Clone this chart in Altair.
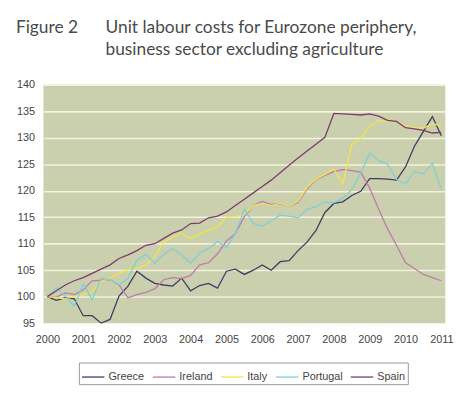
import altair as alt
import pandas as pd

start_year = 2000
quarters_per_year = 4

greece = [100.0, 99.3, 99.8, 99.6,
          96.4, 96.4, 95.0, 95.7,
          100.1, 102.0, 104.8, 103.5,
          102.5, 102.2, 102.0, 103.5,
          101.1, 102.1, 102.5, 101.6,
          104.8, 105.2, 104.2, 105.0,
          106.0, 105.0, 106.6, 106.8,
          108.7, 110.3, 112.5, 115.9,
          117.6, 117.9, 119.1, 119.9,
          122.3, 122.3, 122.2, 122.0,
          124.5, 128.4, 131.2, 134.0,
          130.4]
ireland = [100.0, 99.9, 100.7, 100.4,
           101.3, 103.0, 103.1, 103.2,
           102.2, 99.8, 100.4, 100.8,
           101.5, 103.2, 103.6, 103.4,
           104.0, 106.0, 106.4, 108.1,
           110.5, 111.9, 115.1, 117.2,
           118.0, 117.4, 117.5, 117.1,
           117.8, 120.3, 122.1, 122.9,
           123.6, 124.0, 123.8, 123.5,
           120.5, 116.5, 112.8, 109.7,
           106.4, 105.3, 104.2, 103.6,
           103.0]
italy = [100.0, 99.8, 99.6, 100.0,
         100.4, 101.0, 102.9, 103.5,
         104.4, 105.1, 105.3, 106.0,
         107.5, 110.4, 111.2, 112.0,
         111.0, 111.8, 112.6, 113.2,
         115.0, 115.1, 115.5, 117.2,
         117.6, 117.2, 117.6, 117.1,
         118.0, 120.6, 122.2, 123.1,
         124.1, 121.3, 128.7, 129.8,
         132.1, 133.3, 133.1, 133.1,
         132.2, 131.9, 131.8, 132.7,
         132.2]
portugal = [100.0, 101.7, 100.1, 98.2,
            102.5, 99.4, 103.5, 103.2,
            102.2, 103.5, 106.9, 108.0,
            106.3, 108.0, 109.1, 107.9,
            106.3, 108.2, 109.1, 110.4,
            109.3, 111.9, 116.5, 113.8,
            113.3, 114.3, 115.4, 115.2,
            114.9, 116.5, 117.0, 117.9,
            117.7, 118.6, 120.2, 123.3,
            127.1, 125.7, 125.0, 122.1,
            121.3, 123.6, 123.2, 125.2,
            120.3]
spain = [100.0, 101.1, 102.2, 103.0,
         103.6, 104.4, 105.2, 106.0,
         107.2, 107.9, 108.7, 109.7,
         110.0, 111.0, 112.0, 112.6,
         113.8, 113.9, 114.9, 115.2,
         116.0, 117.2, 118.4, 119.6,
         120.8, 122.0, 123.4, 124.8,
         126.2, 127.5, 128.8, 130.1,
         134.6, 134.5, 134.4, 134.3,
         134.5, 134.1, 133.3, 133.1,
         131.9, 131.7, 131.4, 130.9,
         131.0]

series_names = ["Greece", "Ireland", "Italy", "Portugal", "Spain"]
series_values = [greece, ireland, italy, portugal, spain]
series_colors = ["#3d3d63", "#c07aae", "#f2e64a", "#7fcfd3", "#7b3d6d"]

x_ticks = list(range(2000, 2012))
y_ticks = [95, 100, 105, 110, 115, 120, 125, 130, 135, 140]

fig_label = ["Figure 2"]
title_lines = ["Unit labour costs for Eurozone periphery,",
               "business sector excluding agriculture"]

rows = []
for name, vals in zip(series_names, series_values):
    for i, v in enumerate(vals):
        rows.append({"country": name, "year": start_year + i / quarters_per_year, "value": v})
df = pd.DataFrame(rows)

label_font = "Liberation Sans"
title_font = "Lato"

lines = alt.Chart(df).mark_line(strokeWidth=1.3).encode(
    x=alt.X("year:Q",
            scale=alt.Scale(domain=[1999.89, 2011.11], nice=False, zero=False),
            axis=alt.Axis(values=x_ticks, format="d", title=None, grid=False,
                          ticks=False, tickSize=0, domain=False, labelPadding=11,
                          labelFontSize=11, labelColor="#444444", labelFont=label_font)),
    y=alt.Y("value:Q",
            scale=alt.Scale(domain=[95, 140], nice=False, zero=False),
            axis=alt.Axis(values=y_ticks, title=None, grid=True,
                          gridColor=alt.condition("datum.value === 95", alt.value("transparent"), alt.value("#f3f2df")),
                          gridWidth=1.6, ticks=False, tickSize=0, domain=False,
                          labelPadding=9, labelFontSize=11, labelColor="#444444",
                          labelFont=label_font)),
    color=alt.Color("country:N",
                    scale=alt.Scale(domain=series_names, range=series_colors),
                    legend=alt.Legend(orient="none", legendX=36, legendY=282,
                                      direction="horizontal", title=None,
                                      symbolType="stroke", symbolSize=520,
                                      symbolStrokeWidth=1.3,
                                      labelFont=label_font, labelFontSize=11,
                                      labelColor="#444444", labelOffset=3,
                                      columnPadding=5, padding=2,
                                      strokeColor="#999999", fillColor="white")),
)

fig_text = alt.Chart(pd.DataFrame({"t": fig_label})).mark_text(
    font=title_font, fontSize=17.6, color="#4a4a4a", align="left", baseline="alphabetic"
).encode(text="t:N", x=alt.value(-28), y=alt.value(-52.5))

title1 = alt.Chart(pd.DataFrame({"t": title_lines[:1]})).mark_text(
    font=title_font, fontSize=17.6, color="#4a4a4a", align="left", baseline="alphabetic"
).encode(text="t:N", x=alt.value(63), y=alt.value(-52.5))

title2 = alt.Chart(pd.DataFrame({"t": title_lines[1:]})).mark_text(
    font=title_font, fontSize=17.6, color="#4a4a4a", align="left", baseline="alphabetic"
).encode(text="t:N", x=alt.value(63), y=alt.value(-30))

chart = alt.layer(lines, fig_text, title1, title2).properties(
    width=408, height=242,
    autosize=alt.AutoSizeParams(type="none"),
    padding={"left": 36, "top": 75, "right": 16, "bottom": 72},
    background="white",
).configure_view(fill="#cacfae", stroke=None)

chart.save("out.html", embed_options={"renderer": "svg", "actions": False})
